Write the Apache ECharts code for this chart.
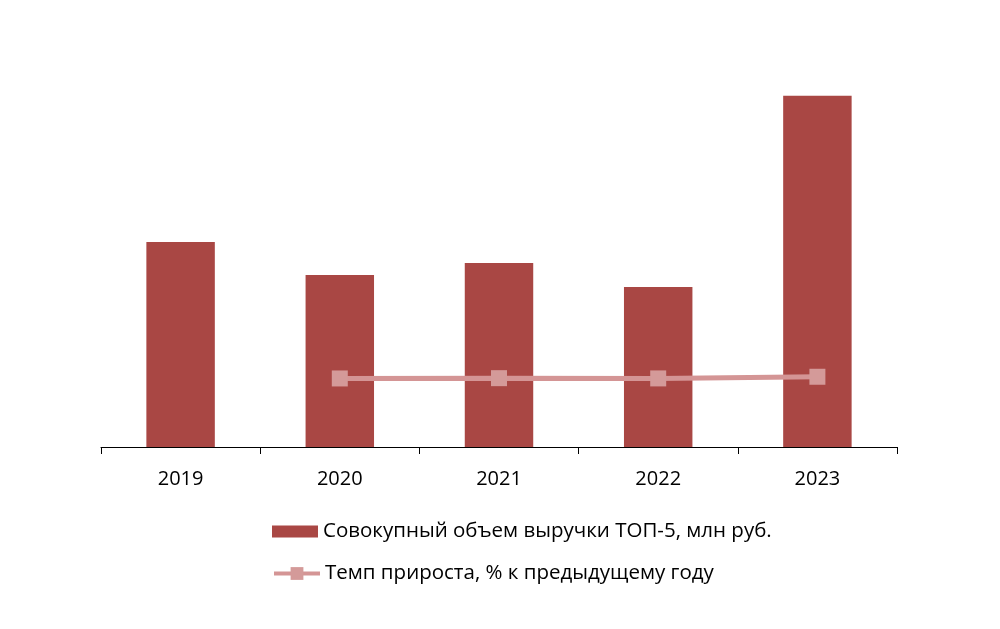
<!DOCTYPE html>
<html><head><meta charset="utf-8">
<script src="https://cdn.jsdelivr.net/npm/echarts@6/dist/echarts.min.js"></script>
<style>html,body{margin:0;padding:0;background:#fff}#c{width:1000px;height:629px}</style>
</head><body><div id="c"></div>
<script>
const years = ['2019', '2020', '2021', '2022', '2023'];
const revenue = [2050, 1720, 1840, 1600, 3513];
const growth = [null, -16.1, 7.0, -13.0, 119.6];
const seriesNames = ['Совокупный объем выручки ТОП-5, млн руб.', 'Темп прироста, % к предыдущему году'];

const chart = echarts.init(document.getElementById('c'));
chart.setOption({
  animation: false,
  backgroundColor: '#fff',
  textStyle: { fontFamily: 'Open Sans' },
  grid: { left: 101, right: 103, top: 47, bottom: 182 },
  legend: [
    {
      orient: 'vertical', left: 267, top: 516,
      itemWidth: 46, itemHeight: 12, itemGap: 7,
      textStyle: { fontSize: 20.5, color: '#000', fontFamily: 'Open Sans' },
      data: [{ name: seriesNames[0], icon: 'rect' }]
    },
    {
      orient: 'vertical', left: 267, top: 558,
      itemWidth: 46, itemHeight: 16, itemGap: 7,
      textStyle: { fontSize: 20.5, color: '#000', fontFamily: 'Open Sans' },
      lineStyle: { width: 4 },
      data: [{ name: seriesNames[1] }]
    }
  ],
  xAxis: {
    type: 'category', data: years, boundaryGap: true,
    axisLine: { lineStyle: { color: '#000', width: 1 } },
    axisTick: { show: true, inside: false, length: 7, lineStyle: { color: '#000' } },
    axisLabel: { fontSize: 20, color: '#000', margin: 22, fontFamily: 'Open Sans' }
  },
  yAxis: [
    { type: 'value', min: 0, max: 4000, show: false, splitLine: { show: false } },
    { type: 'value', min: -5500, max: 26500, show: false, splitLine: { show: false } }
  ],
  series: [
    {
      name: seriesNames[0], type: 'bar', data: revenue, barWidth: '43%',
      itemStyle: { color: '#A94744' }
    },
    {
      name: seriesNames[1], type: 'line', yAxisIndex: 1, data: growth,
      symbol: 'rect', symbolSize: 16,
      lineStyle: { color: '#D49595', width: 5 },
      itemStyle: { color: '#D49A99' }
    }
  ]
});
</script></body></html>
